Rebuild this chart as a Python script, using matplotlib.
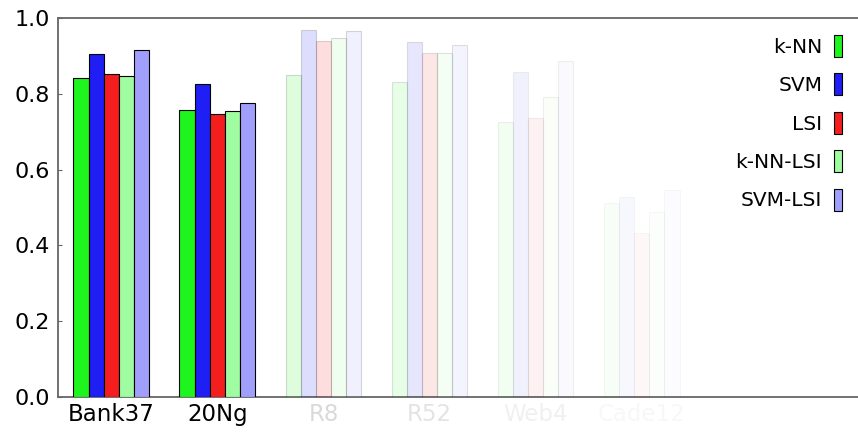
import matplotlib
matplotlib.use("Agg")
import matplotlib.pyplot as plt
import numpy as np

DATASETS = ["Bank37", "20Ng", "R8", "R52", "Web4", "Cade12"]
METHODS = ["k-NN", "SVM", "LSI", "k-NN-LSI", "SVM-LSI"]

KNN = [0.841, 0.758, 0.850, 0.831, 0.725, 0.512]
SVM = [0.906, 0.827, 0.968, 0.936, 0.857, 0.528]
LSI = [0.852, 0.747, 0.940, 0.908, 0.736, 0.434]
KNN_LSI = [0.847, 0.754, 0.947, 0.909, 0.791, 0.488]
SVM_LSI = [0.916, 0.776, 0.966, 0.930, 0.888, 0.546]

COLORS = ["#1ef51e", "#1e1ef5", "#f51e1e", "#a0fca0", "#a0a0fc"]
# per-dataset opacity: the later datasets fade out
ALPHAS = [1.0, 1.0, 0.15, 0.11, 0.06, 0.03]

plt.rcParams["font.family"] = ["DejaVu Sans"]

fig = plt.figure(figsize=(8.58, 4.32), dpi=100)
ax = fig.add_axes([0.0676, 0.081, 0.9324, 0.877])

series = [KNN, SVM, LSI, KNN_LSI, SVM_LSI]
x = np.arange(len(DATASETS))
width = 0.143
offsets = (np.arange(len(METHODS)) - 2) * width

for j, (name, vals) in enumerate(zip(METHODS, series)):
    for i, v in enumerate(vals):
        ax.bar(x[i] + offsets[j], v, width, color=COLORS[j], edgecolor="black",
               linewidth=0.8, alpha=ALPHAS[i], zorder=3,
               label=name if i == 0 else None)

ax.set_xlim(-0.503, 7.04)
ax.set_ylim(0, 1.0)
ax.set_xticks(x)
ax.set_xticklabels(DATASETS, fontsize=16.5)
for lbl, a in zip(ax.get_xticklabels(), ALPHAS):
    lbl.set_color("black")
    lbl.set_alpha(a)
ax.set_yticks([0, 0.2, 0.4, 0.6, 0.8, 1.0])
ax.set_yticklabels(["0.0", "0.2", "0.4", "0.6", "0.8", "1.0"], fontsize=16)
ax.tick_params(axis="x", length=0, pad=4)
ax.tick_params(axis="y", direction="in", length=3, color="#666666", pad=6)

for side in ["left", "top", "bottom"]:
    ax.spines[side].set_color("#666666")
    ax.spines[side].set_linewidth(1.3)
ax.spines["right"].set_visible(False)

leg = ax.legend(loc="upper right", frameon=False, markerfirst=False, fontsize=14.5,
                handlelength=0.4, handleheight=1.3, labelspacing=0.82,
                handletextpad=0.6, borderaxespad=0.3, bbox_to_anchor=(0.998, 0.993))
for t in leg.get_texts():
    t.set_ha("right")

fig.savefig("out.png", dpi=100)
